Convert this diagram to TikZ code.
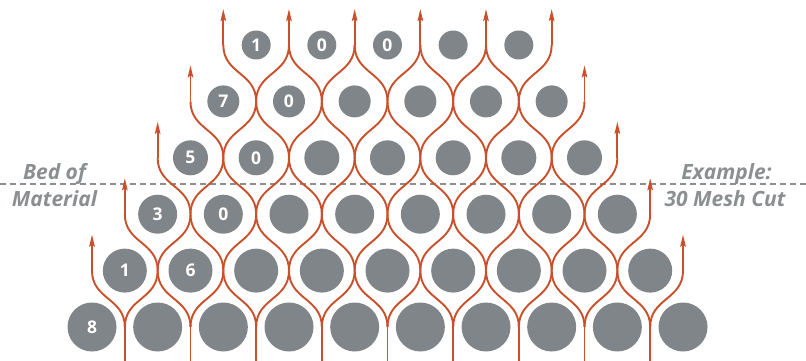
\documentclass[tikz,border=0pt]{standalone}
\usepackage{fontspec}
\setmainfont{Open Sans}
\usetikzlibrary{arrows.meta}
\definecolor{ballgray}{HTML}{808589}
\definecolor{flow}{HTML}{C9502A}
\definecolor{labgray}{HTML}{8C8F92}
\begin{document}
\begin{tikzpicture}[x=1pt,y=-1pt,
  flowline/.style={draw=flow, line width=1.9pt},
  arr/.style={flowline, -{Stealth[length=12pt,width=5.5pt,inset=2pt]}},
  ball/.style={circle, fill=ballgray, draw=none, inner sep=0pt},
  num/.style={text=white, font=\bfseries\fontsize{17.5}{17.5}\selectfont, inner sep=0pt},
  sidelabel/.style={text=labgray, font=\bfseries\itshape\fontsize{21}{25}\selectfont, inner sep=0pt, anchor=base},
  bedline/.style={draw=labgray, line width=1.1pt, dash pattern=on 6pt off 4pt}
]
\useasboundingbox (0,0) rectangle (806,360);

% bed line
\coordinate (bedL) at (0,184);
\coordinate (bedR) at (806,184);
\draw[bedline] (bedL) -- (bedR);

% particles
\foreach \r/\rad in {1/24.5,2/22,3/19.5,4/17.5,5/16,6/14.5} {
  \pgfmathtruncatemacro\n{10-\r}
  \foreach \i in {0,...,\n} {
    \node[ball, minimum size={2*\rad pt}] (c\r-\i) at ({92+32.83*(\r-1)+65.67*\i}, {327-56.4*(\r-1)}) {};
  }
}

% numbers
\foreach \r/\i/\t in {1/0/8, 2/0/1, 2/1/6, 3/0/3, 3/1/0, 4/0/5, 4/1/0, 5/0/7, 5/1/0, 6/0/1, 6/1/0, 6/2/0} {
  \node[num] (n\r-\i) at (c\r-\i) {\t};
}

% pinch points (k=0 left edge, k=11-r right edge)
\foreach \r in {1,...,6} {
  \pgfmathtruncatemacro\m{11-\r}
  \foreach \k in {0,...,\m} {
    \coordinate (p\r-\k) at ({92+32.83*\r+65.67*(\k-1)}, {327-56.4*(\r-1)});
    \coordinate (t\r-\k) at ({92+32.83*\r+65.67*(\k-1)}, {327-56.4*(\r-1)-36});
  }
}

% flow lines from below
\foreach \k in {1,...,9} {
  \coordinate (b\k) at ({92+32.83+65.67*(\k-1)}, 362);
  \draw[flowline] (b\k) -- (p1-\k);
}

% weaving curves
\foreach \r in {1,...,5} {
  \pgfmathtruncatemacro\rr{\r+1}
  \pgfmathtruncatemacro\m{10-\r}
  \foreach \k in {1,...,\m} {
    \pgfmathtruncatemacro\kl{\k-1}
    \draw[flowline] (p\r-\k) .. controls +(0,-29) and +(0,29) .. (p\rr-\kl);
    \draw[flowline] (p\r-\k) .. controls +(0,-29) and +(0,29) .. (p\rr-\k);
  }
}

% outlet arrows at the edges
\foreach \r in {2,...,6} {
  \pgfmathtruncatemacro\m{11-\r}
  \draw[arr] (p\r-0) -- (t\r-0);
  \draw[arr] (p\r-\m) -- (t\r-\m);
}
% outlet arrows at the top
\foreach \k in {1,...,4} {
  \draw[arr] (p6-\k) -- (t6-\k);
}

% side labels
\node[sidelabel] (bedA) at (54.5,179) {Bed of};
\node[sidelabel] (bedB) at (54.5,206) {Material};
\node[sidelabel] (exA) at (726.5,179) {Example:};
\node[sidelabel] (exB) at (725,206) {30 Mesh Cut};
\end{tikzpicture}
\end{document}
